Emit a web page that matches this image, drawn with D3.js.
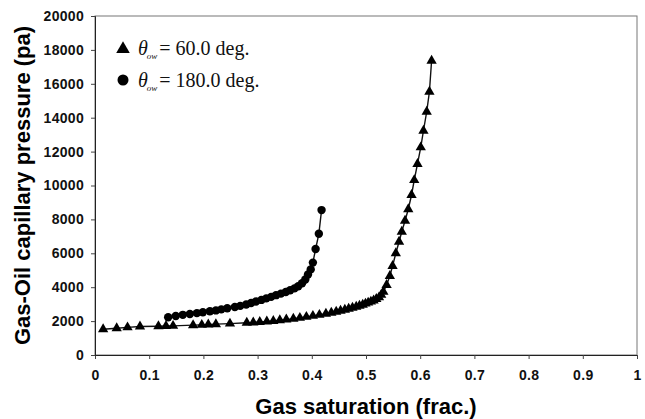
<!DOCTYPE html>
<html>
<head>
<meta charset="utf-8">
<script src="https://cdn.jsdelivr.net/npm/d3@7"></script>
<style>
  body { margin: 0; background: #fff; }
  svg { display: block; }
</style>
</head>
<body>
<div id="chart"></div>
<script>
// theta_ow = 60 deg (triangles)
var satTri = [0.015, 0.040, 0.060, 0.083, 0.117, 0.131, 0.144, 0.181, 0.197, 0.209, 0.223, 0.249,
  0.280, 0.292, 0.304, 0.317, 0.329, 0.341, 0.353, 0.366, 0.378, 0.390, 0.402, 0.414, 0.426,
  0.436, 0.445, 0.453, 0.461, 0.468, 0.475, 0.482, 0.488, 0.494, 0.499, 0.504, 0.509, 0.514,
  0.519, 0.524, 0.528, 0.532, 0.538, 0.544, 0.549, 0.555, 0.561, 0.566, 0.572, 0.578, 0.584,
  0.589, 0.595, 0.601, 0.606, 0.612, 0.617, 0.621];
var pcTri = [1520, 1580, 1630, 1680, 1700, 1710, 1720, 1760, 1780, 1800, 1820, 1850,
  1900, 1920, 1950, 1980, 2010, 2050, 2090, 2140, 2190, 2250, 2310, 2370, 2430,
  2490, 2550, 2610, 2670, 2730, 2790, 2850, 2910, 2970, 3030, 3090, 3150, 3220,
  3300, 3400, 3550, 3730, 4130, 4660, 5250, 6000, 6680, 7270, 7920, 8600, 9440,
  10320, 11270, 12250, 13230, 14350, 15530, 17360];

// theta_ow = 180 deg (circles)
var satCirc = [0.135, 0.149, 0.162, 0.175, 0.188, 0.199, 0.212, 0.223, 0.233, 0.244, 0.258,
  0.268, 0.279, 0.288, 0.297, 0.307, 0.316, 0.325, 0.334, 0.343, 0.352, 0.360, 0.368, 0.375,
  0.382, 0.388, 0.393, 0.398, 0.402, 0.407, 0.413, 0.418];
var pcCirc = [2230, 2300, 2370, 2420, 2470, 2520, 2580, 2630, 2690, 2760, 2830,
  2900, 2980, 3070, 3160, 3250, 3340, 3430, 3530, 3620, 3720, 3820, 3930, 4060,
  4230, 4450, 4750, 5050, 5450, 6250, 7150, 8550];

var xTicks = [0, 0.1, 0.2, 0.3, 0.4, 0.5, 0.6, 0.7, 0.8, 0.9, 1];
var yTicks = [0, 2000, 4000, 6000, 8000, 10000, 12000, 14000, 16000, 18000, 20000];
var legendValues = ["60.0 deg.", "180.0 deg."];

var W = 645, H = 419;
var margin = {top: 16, right: 8, bottom: 64, left: 95},
    width = W - margin.left - margin.right,
    height = H - margin.top - margin.bottom;

var x = d3.scaleLinear().domain([0, 1]).range([0, width]);
var y = d3.scaleLinear().domain([0, 20000]).range([height, 0]);

var svg = d3.select("#chart").append("svg")
    .attr("width", W)
    .attr("height", H)
  .append("g")
    .attr("transform", "translate(" + margin.left + "," + margin.top + ")");

// frame (top / right lighter)
svg.append("rect")
    .attr("width", width)
    .attr("height", height)
    .attr("fill", "none")
    .attr("stroke", "#777")
    .attr("stroke-width", 1);

var xAxis = d3.axisBottom(x)
    .tickValues(xTicks)
    .tickSize(4)
    .tickFormat(d => d3.format("~g")(d));

var yAxis = d3.axisLeft(y)
    .tickValues(yTicks)
    .tickSize(4)
    .tickFormat(d3.format("d"));

var gx = svg.append("g")
    .attr("transform", `translate(0,${height})`)
    .call(xAxis);
var gy = svg.append("g").call(yAxis);

[gx, gy].forEach(function(g){
  g.select(".domain").attr("stroke", "#222");
  g.selectAll(".tick line").attr("stroke", "#444");
  g.selectAll(".tick text")
    .attr("fill", "#111")
    .style("font-family", "Liberation Sans, Arial, sans-serif")
    .style("font-weight", "bold")
    .style("font-size", "14px")
    .style("letter-spacing", "0.3px");
});
gx.selectAll(".tick text").attr("y", 15);
gy.selectAll(".tick text").attr("x", -11);

// axis titles
svg.append("text")
    .attr("x", width / 2)
    .attr("y", height + 59)
    .attr("text-anchor", "middle")
    .style("font-family", "Liberation Sans, Arial, sans-serif")
    .style("font-weight", "bold")
    .style("font-size", "22px")
    .text("Gas saturation (frac.)");

svg.append("text")
    .attr("transform", `translate(${-margin.left + 30},${height / 2}) rotate(-90)`)
    .attr("text-anchor", "middle")
    .style("font-family", "Liberation Sans, Arial, sans-serif")
    .style("font-weight", "bold")
    .style("font-size", "22px")
    .text("Gas-Oil capillary pressure (pa)");

var line = d3.line()
    .x(d => x(d[0]))
    .y(d => y(d[1]));

var triData = satTri.map((s, i) => [s, pcTri[i]]);
var circData = satCirc.map((s, i) => [s, pcCirc[i]]);

[triData, circData].forEach(function(data){
  svg.append("path")
      .datum(data)
      .attr("fill", "none")
      .attr("stroke", "#111")
      .attr("stroke-width", 1.4)
      .attr("d", line);
});

svg.selectAll(".tri")
    .data(triData)
  .enter().append("path")
    .attr("class", "tri")
    .attr("transform", d => `translate(${x(d[0])},${y(d[1])})`)
    .attr("d", d3.symbol().type(d3.symbolTriangle).size(46))
    .attr("fill", "#000");

svg.selectAll(".circ")
    .data(circData)
  .enter().append("circle")
    .attr("class", "circ")
    .attr("cx", d => x(d[0]))
    .attr("cy", d => y(d[1]))
    .attr("r", 4.2)
    .attr("fill", "#000");

// legend
var legend = svg.selectAll(".legend")
    .data(legendValues)
  .enter().append("g")
    .attr("class", "legend")
    .attr("transform", (d, i) => `translate(0,${i * 32})`);

legend.append("path")
    .attr("transform", (d, i) => `translate(28,${i == 0 ? 33 : 32})`)
    .attr("d", (d, i) => d3.symbol().type(i == 0 ? d3.symbolTriangle : d3.symbolCircle).size(i == 0 ? 80 : 95)())
    .attr("fill", "#000");

var lt = legend.append("text")
    .attr("x", 43)
    .attr("y", 39)
    .style("font-family", "Liberation Serif, Times New Roman, serif")
    .style("font-size", "20px")
    .attr("fill", "#111");

lt.append("tspan").style("font-style", "italic").text("\u03b8");
lt.append("tspan")
    .style("font-style", "italic")
    .style("font-size", "9px")
    .attr("dx", -1)
    .attr("dy", 4)
    .text("ow");
lt.append("tspan")
    .attr("dy", -4)
    .attr("dx", 2)
    .text(d => "= " + d);
</script>
</body>
</html>
